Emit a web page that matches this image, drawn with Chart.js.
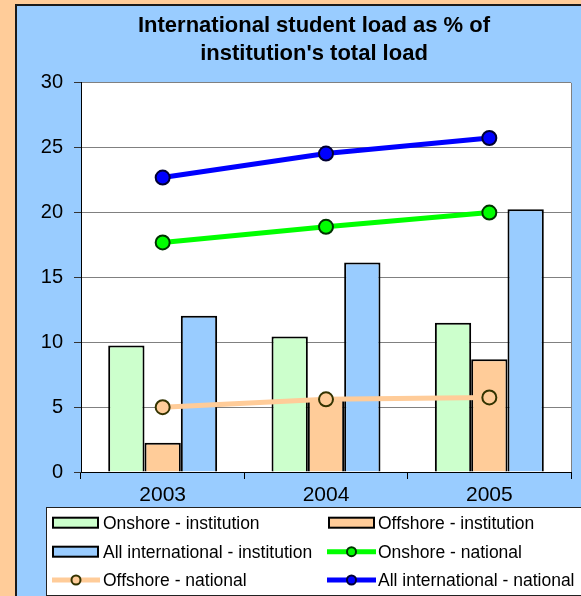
<!DOCTYPE html>
<html>
<head>
<meta charset="utf-8">
<script src="https://cdn.jsdelivr.net/npm/chart.js@4/dist/chart.umd.min.js"></script>
<style>
  html, body { margin: 0; padding: 0; }
  body { width: 581px; height: 596px; overflow: hidden; background: #FFCC99; position: relative; }
  #wrap { position: absolute; left: 15px; top: 4px; width: 594px; height: 592px;
          border-left: 2px solid #1a1a1a; border-top: 2px solid #1a1a1a; background: #99CCFF; }
  #chart { display: block; }
</style>
</head>
<body>
<div id="wrap"><canvas id="chart" width="594" height="592"></canvas></div>
<script>
var years = ["2003", "2004", "2005"];
var onshoreInst = [9.75, 10.45, 11.5];
var offshoreInst = [2.25, 5.6, 8.7];
var allIntlInst = [12.05, 16.15, 20.25];
var onshoreNat = [17.7, 18.9, 20.0];
var offshoreNat = [5.0, 5.6, 5.75];
var allIntlNat = [22.7, 24.55, 25.75];
var yTicks = [0, 5, 10, 15, 20, 25, 30];

var FONT = "'Liberation Sans', Arial, sans-serif";

// white plot area + grey right edge
var plotBg = {
  id: "plotBg",
  beforeDraw: function (chart) {
    var a = chart.chartArea, c = chart.ctx;
    c.save();
    c.fillStyle = "#fff";
    c.fillRect(a.left, a.top, a.right - a.left, a.bottom - a.top);
    c.restore();
  },
  beforeDatasetsDraw: function (chart) {
    var a = chart.chartArea, c = chart.ctx;
    c.save();
    c.strokeStyle = "#808080";
    c.lineWidth = 1;
    c.beginPath();
    c.moveTo(a.right + 0.5, a.top);
    c.lineTo(a.right + 0.5, a.bottom);
    c.stroke();
    c.restore();
  }
};

// two-column boxed legend
var boxLegend = {
  id: "boxLegend",
  afterDraw: function (chart) {
    var c = chart.ctx;
    var sets = chart.data.datasets;
    var rows = [516.7, 545.7, 574];
    var cols = [{ sw: 36, lw: 35, le: 83, tx: 86 }, { sw: 312, lw: 310, le: 359, tx: 361 }];
    c.save();
    c.fillStyle = "#fff";
    c.fillRect(29, 501, 570, 89);
    c.strokeStyle = "#222";
    c.lineWidth = 1;
    c.strokeRect(29.5, 501.5, 570, 88);
    c.font = "17.5px " + FONT;
    c.textBaseline = "middle";
    for (var i = 0; i < sets.length; i++) {
      var d = sets[i];
      var col = cols[i % 2];
      var y = rows[Math.floor(i / 2)];
      if (d.type === "line") {
        c.strokeStyle = d.borderColor;
        c.lineWidth = 5;
        c.beginPath();
        c.moveTo(col.lw, y);
        c.lineTo(col.le, y);
        c.stroke();
        c.beginPath();
        c.arc((col.lw + col.le) / 2, y, 4.5, 0, Math.PI * 2);
        c.fillStyle = d.pointBackgroundColor;
        c.fill();
        c.lineWidth = 2;
        c.strokeStyle = d.pointBorderColor;
        c.stroke();
      } else {
        c.fillStyle = d.backgroundColor;
        c.fillRect(col.sw, y - 5, 45, 10);
        c.lineWidth = 2;
        c.strokeStyle = "#000";
        c.strokeRect(col.sw, y - 5, 45, 10);
      }
      c.fillStyle = "#000";
      c.fillText(d.label, col.tx, y + 1);
    }
    c.restore();
  }
};

var barStyle = { borderColor: "#000", borderWidth: 2, categoryPercentage: 0.667, barPercentage: 1.0, order: 2 };

function lineSet(label, data, color, edge) {
  return {
    type: "line", label: label, data: data, order: 1,
    borderColor: color, borderWidth: 5, backgroundColor: color,
    pointRadius: 7, pointBackgroundColor: color, pointBorderColor: edge, pointBorderWidth: 2,
    tension: 0, fill: false
  };
}

var chart = new Chart(document.getElementById("chart"), {
  type: "bar",
  data: {
    labels: years,
    datasets: [
      Object.assign({ type: "bar", label: "Onshore - institution", data: onshoreInst, backgroundColor: "#CCFFCC" }, barStyle),
      Object.assign({ type: "bar", label: "Offshore - institution", data: offshoreInst, backgroundColor: "#FFCC99" }, barStyle),
      Object.assign({ type: "bar", label: "All international - institution", data: allIntlInst, backgroundColor: "#99CCFF" }, barStyle),
      lineSet("Onshore - national", onshoreNat, "#00FF00", "#003300"),
      lineSet("Offshore - national", offshoreNat, "#FFCC99", "#333300"),
      lineSet("All international - national", allIntlNat, "#0000FF", "#000033")
    ]
  },
  options: {
    responsive: false,
    animation: false,
    layout: { padding: { left: 0, right: 0, top: 0, bottom: 91 } },
    plugins: {
      legend: { display: false },
      tooltip: { enabled: false },
      title: {
        display: true,
        text: ["International student load as % of", "institution's total load"],
        color: "#000",
        font: { family: FONT, size: 22, weight: "bold", lineHeight: 1.27 },
        padding: { top: 6, bottom: 15 }
      }
    },
    scales: {
      x: {
        offset: true,
        grid: { offset: true, drawOnChartArea: false, tickLength: 7, color: "#000" },
        border: { color: "#000", width: 1 },
        ticks: { color: "#000", padding: 4, font: { family: FONT, size: 21 } },
        afterFit: function (s) { s.height = 35; }
      },
      y: {
        min: 0,
        max: 30,
        afterBuildTicks: function (s) { s.ticks = yTicks.map(function (v) { return { value: v }; }); },
        grid: { color: "#808080", lineWidth: 1, tickLength: 7, tickColor: "#333" },
        border: { color: "#000", width: 1 },
        ticks: { color: "#000", padding: 11, font: { family: FONT, size: 20 } },
        afterFit: function (s) { s.width = 64; }
      },
      // empty right-hand strip so the title centres on the whole blue panel
      yPad: {
        position: "right",
        min: 0,
        max: 30,
        grid: { display: false },
        ticks: { display: false },
        border: { display: false },
        afterFit: function (s) { s.width = 40; }
      }
    }
  },
  plugins: [plotBg, boxLegend]
});
</script>
</body>
</html>
